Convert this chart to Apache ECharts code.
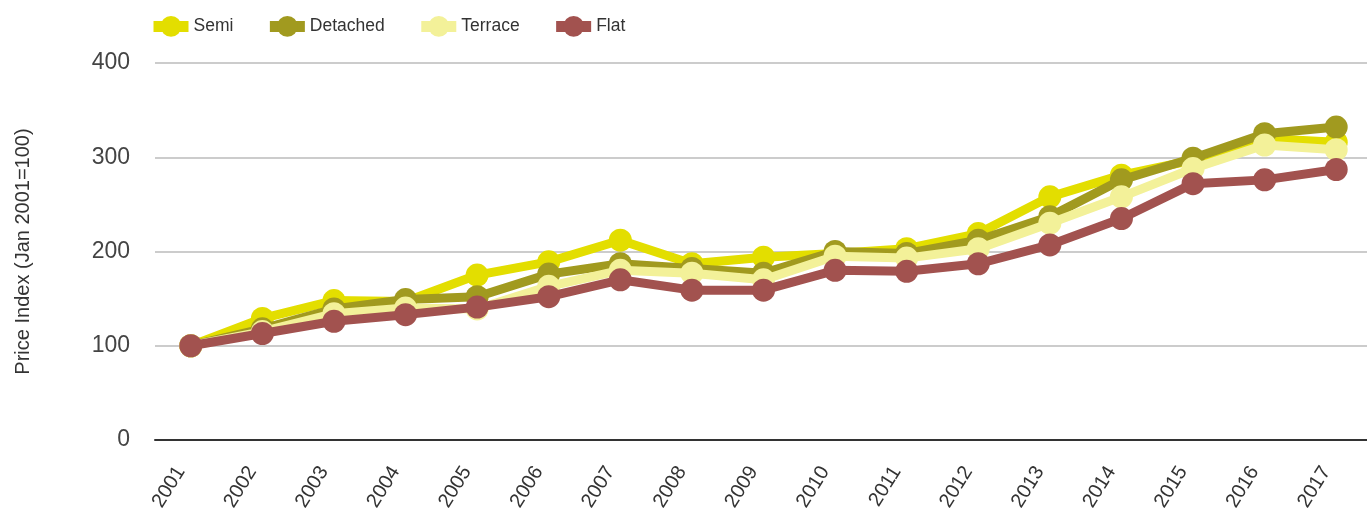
<!DOCTYPE html>
<html>
<head>
<meta charset="utf-8">
<title>House Price Index by Property Type</title>
<script src="https://cdn.jsdelivr.net/npm/echarts@6/dist/echarts.min.js"></script>
<style>
  html, body { margin: 0; padding: 0; background: #fff; }
  #chart { width: 1367px; height: 511px; }
</style>
</head>
<body>
<div id="chart"></div>
<script>
// Years on the x axis
const years = ['2001', '2002', '2003', '2004', '2005', '2006', '2007', '2008', '2009',
               '2010', '2011', '2012', '2013', '2014', '2015', '2016', '2017'];

// Price index per property type (Jan 2001 = 100)
const semi     = [100, 129, 148, 147, 175, 189, 212, 187, 194, 198, 203, 219, 258, 281, 297, 320, 316];
const detached = [100, 118, 139, 149, 152, 176, 187, 182, 177, 200, 198, 212, 237, 276, 299, 325, 332];
const terrace  = [100, 115, 134, 140, 139, 163, 180, 177, 170, 195, 193, 203, 230, 258, 288, 313, 308];
const flat     = [100, 113, 126, 133, 141, 152, 170, 159, 159, 180, 179, 187, 207, 235, 272, 276, 287];

const seriesNames  = ['Semi', 'Detached', 'Terrace', 'Flat'];
const seriesColors = ['#E3DE00', '#A19A1F', '#F3F199', '#A2524F'];
const seriesData   = [semi, detached, terrace, flat];

const FONT = '"Liberation Sans", Arial, Helvetica, sans-serif';

const chart = echarts.init(document.getElementById('chart'), null, { renderer: 'canvas' });

chart.setOption({
  animation: false,
  backgroundColor: '#ffffff',
  textStyle: { fontFamily: FONT },
  color: seriesColors,
  legend: {
    left: 148,
    top: 16,
    padding: 0,
    itemWidth: 35,
    itemHeight: 26,
    itemGap: 31,
    textStyle: { fontSize: 17.5, color: '#333333', fontFamily: FONT },
    lineStyle: { width: 11 },
    data: seriesNames
  },
  grid: {
    left: 155,
    top: 63,
    width: 1217,
    height: 377,
    containLabel: false,
    outerBoundsMode: 'none'
  },
  xAxis: {
    type: 'category',
    data: years,
    boundaryGap: true,
    axisLine: { show: true, lineStyle: { color: '#333333', width: 2 } },
    axisTick: { show: false },
    axisLabel: {
      rotate: 58,
      margin: 12,
      padding: [0, 19, 0, 0],
      fontSize: 20,
      color: '#333333',
      fontFamily: FONT
    },
    splitLine: { show: false }
  },
  yAxis: {
    type: 'value',
    min: 0,
    max: 400,
    interval: 100,
    name: 'Price Index (Jan 2001=100)',
    nameLocation: 'middle',
    nameGap: 122,
    nameRotate: 90,
    nameTextStyle: { fontSize: 20, color: '#333333', fontFamily: FONT },
    axisLine: { show: false },
    axisTick: { show: false },
    axisLabel: {
      margin: 25,
      fontSize: 23,
      color: '#444444',
      fontFamily: FONT
    },
    splitLine: { show: true, lineStyle: { color: '#cccccc', width: 2 } }
  },
  series: seriesNames.map((name, i) => ({
    name: name,
    type: 'line',
    data: seriesData[i],
    symbol: 'circle',
    symbolSize: 23,
    showSymbol: true,
    lineStyle: { width: 9, color: seriesColors[i] },
    itemStyle: { color: seriesColors[i] },
    emphasis: { disabled: true },
    z: 2 + i
  }))
});
</script>
</body>
</html>
